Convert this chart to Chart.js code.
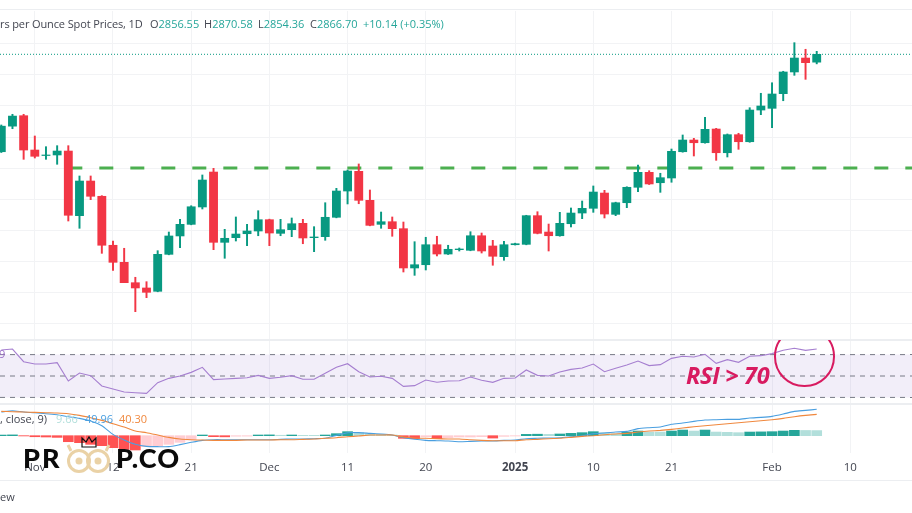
<!DOCTYPE html>
<html>
<head>
<meta charset="utf-8">
<title>Gold spot</title>
<script src="https://cdn.jsdelivr.net/npm/chart.js@4"></script>
<style>
  html, body { margin:0; padding:0; background:#fff; }
  #box { position:relative; width:912px; height:513px; overflow:hidden; font-family:"Open Sans",sans-serif; }
  canvas { position:absolute; left:0; top:0; filter:blur(0.3px); }
  .t { position:absolute; white-space:pre; font-size:11px; line-height:14px; color:#434651; }
  .up { color:#26a69a; }
  .sep { position:absolute; left:0; width:912px; background:#eceef1; }
  #cerchioBox { position:absolute; left:760px; top:340px; width:100px; height:60px; overflow:hidden; }
  #cerchio { position:absolute; left:14px; top:-14px; width:56.6px; height:56.6px; border:2.6px solid #d81b60; border-radius:50%; }
  #rsiNota { position:absolute; left:686px; top:359px; font:italic 700 23.5px "Open Sans",sans-serif; letter-spacing:-0.3px; color:#d81b60; white-space:pre; }
  .logo { position:absolute; top:442px; font:900 27px/32px Lato,sans-serif; color:#0a0a0a; letter-spacing:2px; }
</style>
</head>
<body>
<div id="box">
  <canvas id="grafico" width="912" height="513"></canvas>
  <div class="sep" style="top:9px;height:1px"></div>
  <div class="sep" style="top:339px;height:2px"></div>
  <div class="sep" style="top:403px;height:2px"></div>
  <div class="sep" style="top:480px;height:1px"></div>

  <div class="t" style="left:0;top:17px;letter-spacing:-0.12px">rs per Ounce Spot Prices, 1D</div>
  <div class="t" style="left:150px;top:17px">O<span class="up">2856.55</span></div>
  <div class="t" style="left:204px;top:17px">H<span class="up">2870.58</span></div>
  <div class="t" style="left:258px;top:17px">L<span class="up">2854.36</span></div>
  <div class="t" style="left:310px;top:17px">C<span class="up">2866.70</span></div>
  <div class="t up" style="left:363px;top:17px">+10.14 (+0.35%)</div>

  <div class="t" style="left:-1px;top:347px;color:#9c6fc8">9</div>
  <div class="t" style="left:0;top:412px">, close, 9)</div>
  <div class="t" style="left:56px;top:412px;color:#b2dfdb">9.66</div>
  <div class="t" style="left:85px;top:412px;color:#4a9fe0">49.96</div>
  <div class="t" style="left:119px;top:412px;color:#f0883e">40.30</div>
  <div class="t" style="left:0;top:490px">ew</div>

  <div id="rsiNota">RSI &gt; 70</div>
  <div id="cerchioBox"><div id="cerchio"></div></div>

  <div class="logo" style="left:23px">PR</div>
  <svg style="position:absolute;left:66px;top:434px" width="48" height="42">
    <g fill="none" stroke="#ead2a6" stroke-width="3">
      <circle cx="13" cy="27" r="10.5"/><circle cx="32" cy="27" r="10.5"/>
      <path d="M5 17 L2 11 M40 17 L43 11"/>
    </g>
    <circle cx="13" cy="27" r="3.5" fill="#ead2a6"/><circle cx="32" cy="27" r="3.5" fill="#ead2a6"/>
    <path d="M16 13 L16 4 L20 8 L23 3 L26 8 L30 4 L30 13 Z" fill="none" stroke="#111" stroke-width="1.2"/>
  </svg>
  <div class="logo" style="left:116px;letter-spacing:1.2px">P.CO</div>
</div>

<script>
// prezzi, una candela per barra
const aperture = [2741,2774,2787.5,2743.2,2736.1,2736.8,2741.9,2658.5,2703.2,2683.5,2620.3,2598.3,2572,2565.2,2560.9,2608.6,2632.3,2647.3,2669.7,2714.8,2624.1,2630.1,2635.2,2638.7,2653.3,2635.7,2640.4,2648.6,2630.1,2631.4,2656.4,2690.3,2715.7,2678.3,2647.3,2650.7,2641.7,2591,2595.2,2621,2609,2614.6,2613.8,2632.6,2619.4,2605.6,2621,2621.5,2658.5,2637.4,2632.6,2648.1,2661.9,2668,2687.7,2660.2,2675.2,2695.1,2714.4,2701,2707.1,2741,2756.1,2752.6,2770.3,2739.7,2763,2753.9,2794.8,2797,2815.9,2843.9,2861.9,2856.55];
const massimi = [2775.5,2789.3,2789.3,2761.3,2747.5,2748.8,2748.8,2709.7,2709.7,2684.3,2625.8,2616.4,2579,2573.3,2613.3,2637.4,2653.8,2671.3,2711,2719.6,2640.9,2656.8,2647.3,2664.9,2654,2653.8,2655.5,2653.8,2644.3,2675.2,2693.8,2717.4,2725.2,2691.6,2663.2,2656.8,2650.3,2624.9,2630.6,2631.9,2620.3,2616.8,2637.8,2636.1,2626.7,2625.4,2623,2659,2663.6,2647.7,2662.8,2668.4,2677.4,2696.8,2691.2,2675.9,2695.8,2723.9,2716.5,2713.2,2744.5,2762.6,2758.3,2785.4,2771.2,2763.9,2764.8,2797.8,2816.4,2830,2844.8,2881.7,2873.2,2870.58];
const minimi = [2740,2770.7,2731.2,2732.9,2731.2,2724.8,2651.6,2642.2,2679.1,2609.9,2588,2572,2534.6,2552.7,2560.3,2608,2617.2,2646.7,2667.1,2614.6,2603.5,2625.8,2619.8,2632.6,2619.8,2632.6,2631.4,2622.3,2612,2626.7,2655.7,2673.6,2673.9,2645.4,2642.2,2631.9,2585.8,2581.5,2588.4,2606.5,2608.4,2612.9,2613.2,2610.3,2594.5,2600.9,2620.6,2620.9,2635,2612.9,2632,2643.9,2654.6,2662.8,2655.5,2658.5,2668.8,2689.4,2698.7,2688.6,2701.6,2740.4,2735.5,2751.9,2729.9,2734.2,2744.1,2753.2,2788.8,2772,2806.8,2839.6,2834.4,2854.36];
const chiusure = [2774,2787,2743.2,2735.1,2736.8,2741.9,2659,2703.2,2683.5,2620.3,2598.3,2572,2565.2,2559.6,2608.6,2632.3,2647.3,2670,2704.5,2624.1,2629.3,2634.8,2638.7,2653.3,2636.1,2640.4,2648.1,2629.7,2631,2656.4,2690.3,2716.1,2678.3,2646,2650.7,2641.7,2591,2595.2,2621,2609,2615.1,2615.5,2632.6,2612.9,2606.1,2621,2622.3,2658.5,2635.7,2632.6,2648.6,2661.9,2668,2689,2660.6,2675.2,2695.1,2714.4,2699.4,2707.5,2741.5,2756.1,2752.6,2769.9,2739.7,2763,2753.9,2794.8,2800,2815.5,2843.9,2861.9,2855.9,2866.7];

const valoriRsi = [74.3,75.2,63.4,61.2,61.2,62.5,45.3,52.8,50.3,40.7,37.9,35.1,34.4,33.8,43.8,47.8,50,53.4,58.1,46.6,47.2,47.8,48.4,50.6,47.8,48.8,50.3,46.9,46.9,52.5,58.1,61.5,54,49.1,49.7,47.8,40.3,41,46.3,44.1,45.3,45.6,49.1,46,44.1,47.8,48.1,55.6,50.6,50,53.7,56.2,57.5,61.2,54,57.2,60.3,64,59.7,60.6,66.5,68.4,67.8,70.3,61.8,65.3,62.8,68.4,69,70.9,74,75.9,74,75.2];

const lineaMacd = [44.8,47.3,44.8,43.5,41.6,39.8,36,32.8,27.8,18.9,2.5,-8.2,-16.4,-20.2,-20.8,-20.8,-17,-12.6,-8.8,-7.6,-7.6,-7.6,-7.6,-7.6,-7.6,-6.9,-6.3,-6.3,-5.7,-5,0.6,5.7,5.7,4.4,3.2,1.3,-3.8,-6.9,-8.8,-9.5,-10.1,-11.4,-10.7,-10.1,-10.1,-8.8,-8.2,-5.7,-5,-4.4,-3.8,-1.9,0,3.8,5,6.9,8.2,13.3,15.1,16.4,21.5,24,27.1,29.7,30.3,30.9,30.9,33.4,34.7,36.6,41,46.1,47.9,49.96];
const lineaSegnale = [46.1,45.4,44.8,44.2,43.5,42.9,41.6,38.5,34.1,29,22.7,16.4,8.8,5.7,1.3,-3.2,-6.3,-7.6,-8.2,-8.8,-8.8,-8.8,-8.2,-8.2,-8.2,-7.6,-7.6,-6.9,-6.3,-5,-3.8,-1.9,-0.6,1.3,1.3,1.3,-2.5,-4.4,-5,-5.7,-6.3,-6.3,-7.6,-8.8,-9.5,-9.5,-9.5,-7.6,-6.9,-5.7,-5,-3.2,-1.3,0,1.9,3.2,4.4,6.9,8.8,10.1,12,14.5,17,18.9,20.8,22.7,24.6,26.5,28.4,30.3,32.8,36,38.5,40.3];
const istogramma = [1.2,1.5,-0.5,-2,-2.5,-3.2,-11.4,-13.2,-16.4,-18.9,-22.7,-25.9,-27.1,-20.8,-19.6,-16.4,-12.6,-8.2,1.3,-1.9,-2.2,-1,-0.8,1.3,1.5,0.8,1.3,0.6,0.6,1.3,3.8,7.6,5.7,3.8,2.5,1.3,-5,-5.7,-1.9,-5.7,-3.8,-2.5,-2.5,-1.9,-4.5,-1.3,-0.6,2.5,2.8,2.5,3.2,4.4,5.7,7.6,5.7,3.8,6.9,8.8,6.9,6.9,8.8,10.7,8.8,10.7,6.9,6.3,5.7,6.9,7.2,7.6,8.8,10.1,9.9,9.66];

const tickIndici = [3,10,17,24,31,38,46,53,60,69,76];
const tickEtichette = ["Nov","12","21","Dec","11","20","2025","10","21","Feb","10"];
const griglieprezzo = [2880,2840,2800,2760,2720,2680,2640,2600,2560,2520];
const livelloSupporto = 2720;
const ultimoPrezzo = 2866.7;
const livelliRsi = [70,50,30];

const verde = "#089981";
const rosso = "#f23645";
const xMin = -0.116;
const xMax = 81.53;

function colori(i) {
  return chiusure[i] >= aperture[i] ? verde : rosso;
}

function coloreIstogramma(i) {
  let v = istogramma[i];
  let prima = i > 0 ? istogramma[i-1] : 0;
  if (v >= 0) return v > prima ? "#26a69a" : "#b2dfdb";
  return v < prima ? "#ff5252" : "#ffcdd2";
}

function rigaOrizzontale(valore, asse, colore, larghezza, tratteggio, ordine) {
  return {
    type: "line", yAxisID: asse, order: ordine,
    data: [{x:xMin, y:valore}, {x:xMax, y:valore}],
    borderColor: colore, borderWidth: larghezza, borderDash: tratteggio,
    pointRadius: 0, fill: false
  };
}

function serie(valori) {
  let punti = [];
  for (let i = 0; i < valori.length; i++) punti.push({x:i, y:valori[i]});
  return punti;
}

let stoppini = [], corpi = [];
for (let i = 0; i < aperture.length; i++) {
  stoppini.push({x:i, y:[minimi[i], massimi[i]]});
  corpi.push({x:i, y:[aperture[i], chiusure[i]]});
}

let datasets = [
  // livello verde, parte dalla candela 6
  {
    type:"line", yAxisID:"y", order:10,
    data:[{x:6, y:livelloSupporto}, {x:xMax, y:livelloSupporto}],
    borderColor:"#4caf50", borderWidth:3, borderDash:[14,17], pointRadius:0
  },
  rigaOrizzontale(ultimoPrezzo, "y", "#089981", 1, [1,2], 11),
  {
    type:"bar", yAxisID:"y", order:2, data:stoppini, grouped:false, barThickness:1.3,
    backgroundColor: c => colori(c.dataIndex)
  },
  {
    type:"bar", yAxisID:"y", order:1, data:corpi, grouped:false, barThickness:8.2,
    backgroundColor: c => colori(c.dataIndex)
  },
  // RSI
  {
    type:"line", yAxisID:"yRsi", order:9,
    data:[{x:xMin, y:livelliRsi[0]}, {x:xMax, y:livelliRsi[0]}],
    borderColor:"#787b86", borderWidth:1, borderDash:[5,5], pointRadius:0,
    fill:{value:livelliRsi[2]}, backgroundColor:"rgba(126,87,194,0.1)"
  },
  rigaOrizzontale(livelliRsi[1], "yRsi", "#787b86", 1, [5,5], 8),
  rigaOrizzontale(livelliRsi[2], "yRsi", "#787b86", 1, [5,5], 8),
  {
    type:"line", yAxisID:"yRsi", order:3, data:serie(valoriRsi),
    borderColor:"#a67fd0", borderWidth:1.1, pointRadius:0, tension:0
  },
  // MACD
  {
    type:"bar", yAxisID:"yMacd", order:7, data:serie(istogramma), grouped:false, barThickness:10,
    backgroundColor: c => coloreIstogramma(c.dataIndex)
  },
  {
    type:"line", yAxisID:"yMacd", order:6, data:serie(lineaMacd),
    borderColor:"#4a9fe0", borderWidth:1.1, pointRadius:0, tension:0.2
  },
  {
    type:"line", yAxisID:"yMacd", order:5, data:serie(lineaSegnale),
    borderColor:"#f0883e", borderWidth:1.1, pointRadius:0, tension:0.2
  }
];

new Chart(document.getElementById("grafico"), {
  type: "bar",
  data: { datasets: datasets },
  options: {
    responsive: false,
    animation: false,
    layout: { padding: { top:11, bottom:33, left:0, right:0 } },
    plugins: { legend:{display:false}, tooltip:{enabled:false} },
    scales: {
      x: {
        type:"linear", min:xMin, max:xMax, offset:false,
        grid: { offset:false, color:"#f2f3f5", drawTicks:false },
        border: { display:false },
        afterBuildTicks: s => { s.ticks = tickIndici.map(v => ({value:v})); },
        afterFit: s => { s.height = 27; },
        ticks: {
          autoSkip:false, maxRotation:0, padding:8, color:"#434651",
          font: c => ({ family:"Open Sans", size:11.5, weight: c.tick && c.tick.value == 46 ? "bold" : "normal" }),
          callback: v => tickEtichette[tickIndici.indexOf(v)]
        }
      },
      y: {
        position:"left", min:2352.26, max:2922.58,
        grid: { color:"#f2f3f5", drawTicks:false },
        border: { display:false },
        afterBuildTicks: s => { s.ticks = griglieprezzo.map(v => ({value:v})); },
        afterFit: s => { s.width = 0; },
        ticks: { display:false }
      },
      yRsi: { axis:"y", display:false, min:-21.96, max:391.12 },
      yMacd: { axis:"y", display:false, min:-32.8, max:804.4 }
    }
  }
});
</script>
</body>
</html>
